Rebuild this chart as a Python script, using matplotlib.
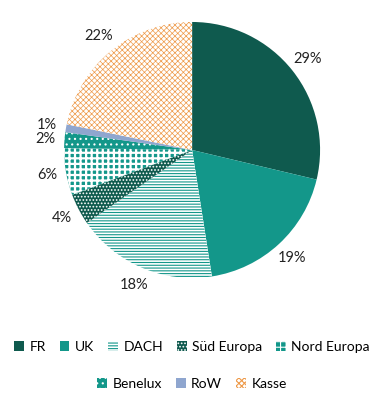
import matplotlib.pyplot as plt
from matplotlib.patches import Patch

plt.rcParams['font.family'] = ['Lato', 'DejaVu Sans']

regions = ['FR', 'UK', 'DACH', 'Süd Europa', 'Nord Europa', 'Benelux', 'RoW', 'Kasse']
shares = [29, 19, 18, 4, 6, 2, 1, 22]

dark = '#0f5a4e'
teal = '#13978a'
faces = [dark, teal, 'white', dark, teal, teal, '#8fa6cf', 'white']
hatch_cols = [dark, teal, teal, 'white', 'white', 'white', '#8fa6cf', '#ee9a4a']
hatches = [None, None, '------', '.....', '+++', '...', None, 'xxxxxx']
hatch_lw = [0.8, 0.8, 0.8, 0.8, 1.6, 0.8, 0.8, 0.5]

plt.rcParams['hatch.linewidth'] = 0.8

fig = plt.figure(figsize=(3.84, 4.07), dpi=100)
ax = fig.add_axes([0.1667, 0.317, 0.667, 0.629])

wedges, texts = ax.pie(shares, startangle=90, counterclock=False,
                       labels=[f"{s}%" for s in shares], labeldistance=1.15,
                       textprops=dict(fontsize=10.5, color='#222222'))
for w, fc, hc, h, lw in zip(wedges, faces, hatch_cols, hatches, hatch_lw):
    w.set_facecolor(fc)
    w.set_edgecolor(hc)
    w.set_linewidth(0)
    if h:
        w.set_hatch(h)
        if hasattr(w, 'set_hatch_linewidth'):
            w.set_hatch_linewidth(lw)
for t in texts:
    t.set_ha('center')
    t.set_va('center')
ax.set_xlim(-1, 1)
ax.set_ylim(-1, 1)

handles = []
for fc, hc, h in zip(faces, hatch_cols, hatches):
    handles.append(Patch(facecolor=fc, edgecolor=hc, hatch=h, linewidth=0))

kw = dict(frameon=False, fontsize=10, handlelength=0.7, handleheight=0.7,
          handletextpad=0.4, columnspacing=1.0, loc='center')
fig.legend(handles[:5], regions[:5], ncol=5, bbox_to_anchor=(0.5, 0.147), **kw)
fig.legend(handles[5:], regions[5:], ncol=3, bbox_to_anchor=(0.5, 0.057), **kw)

fig.savefig('out.png', dpi=100)
